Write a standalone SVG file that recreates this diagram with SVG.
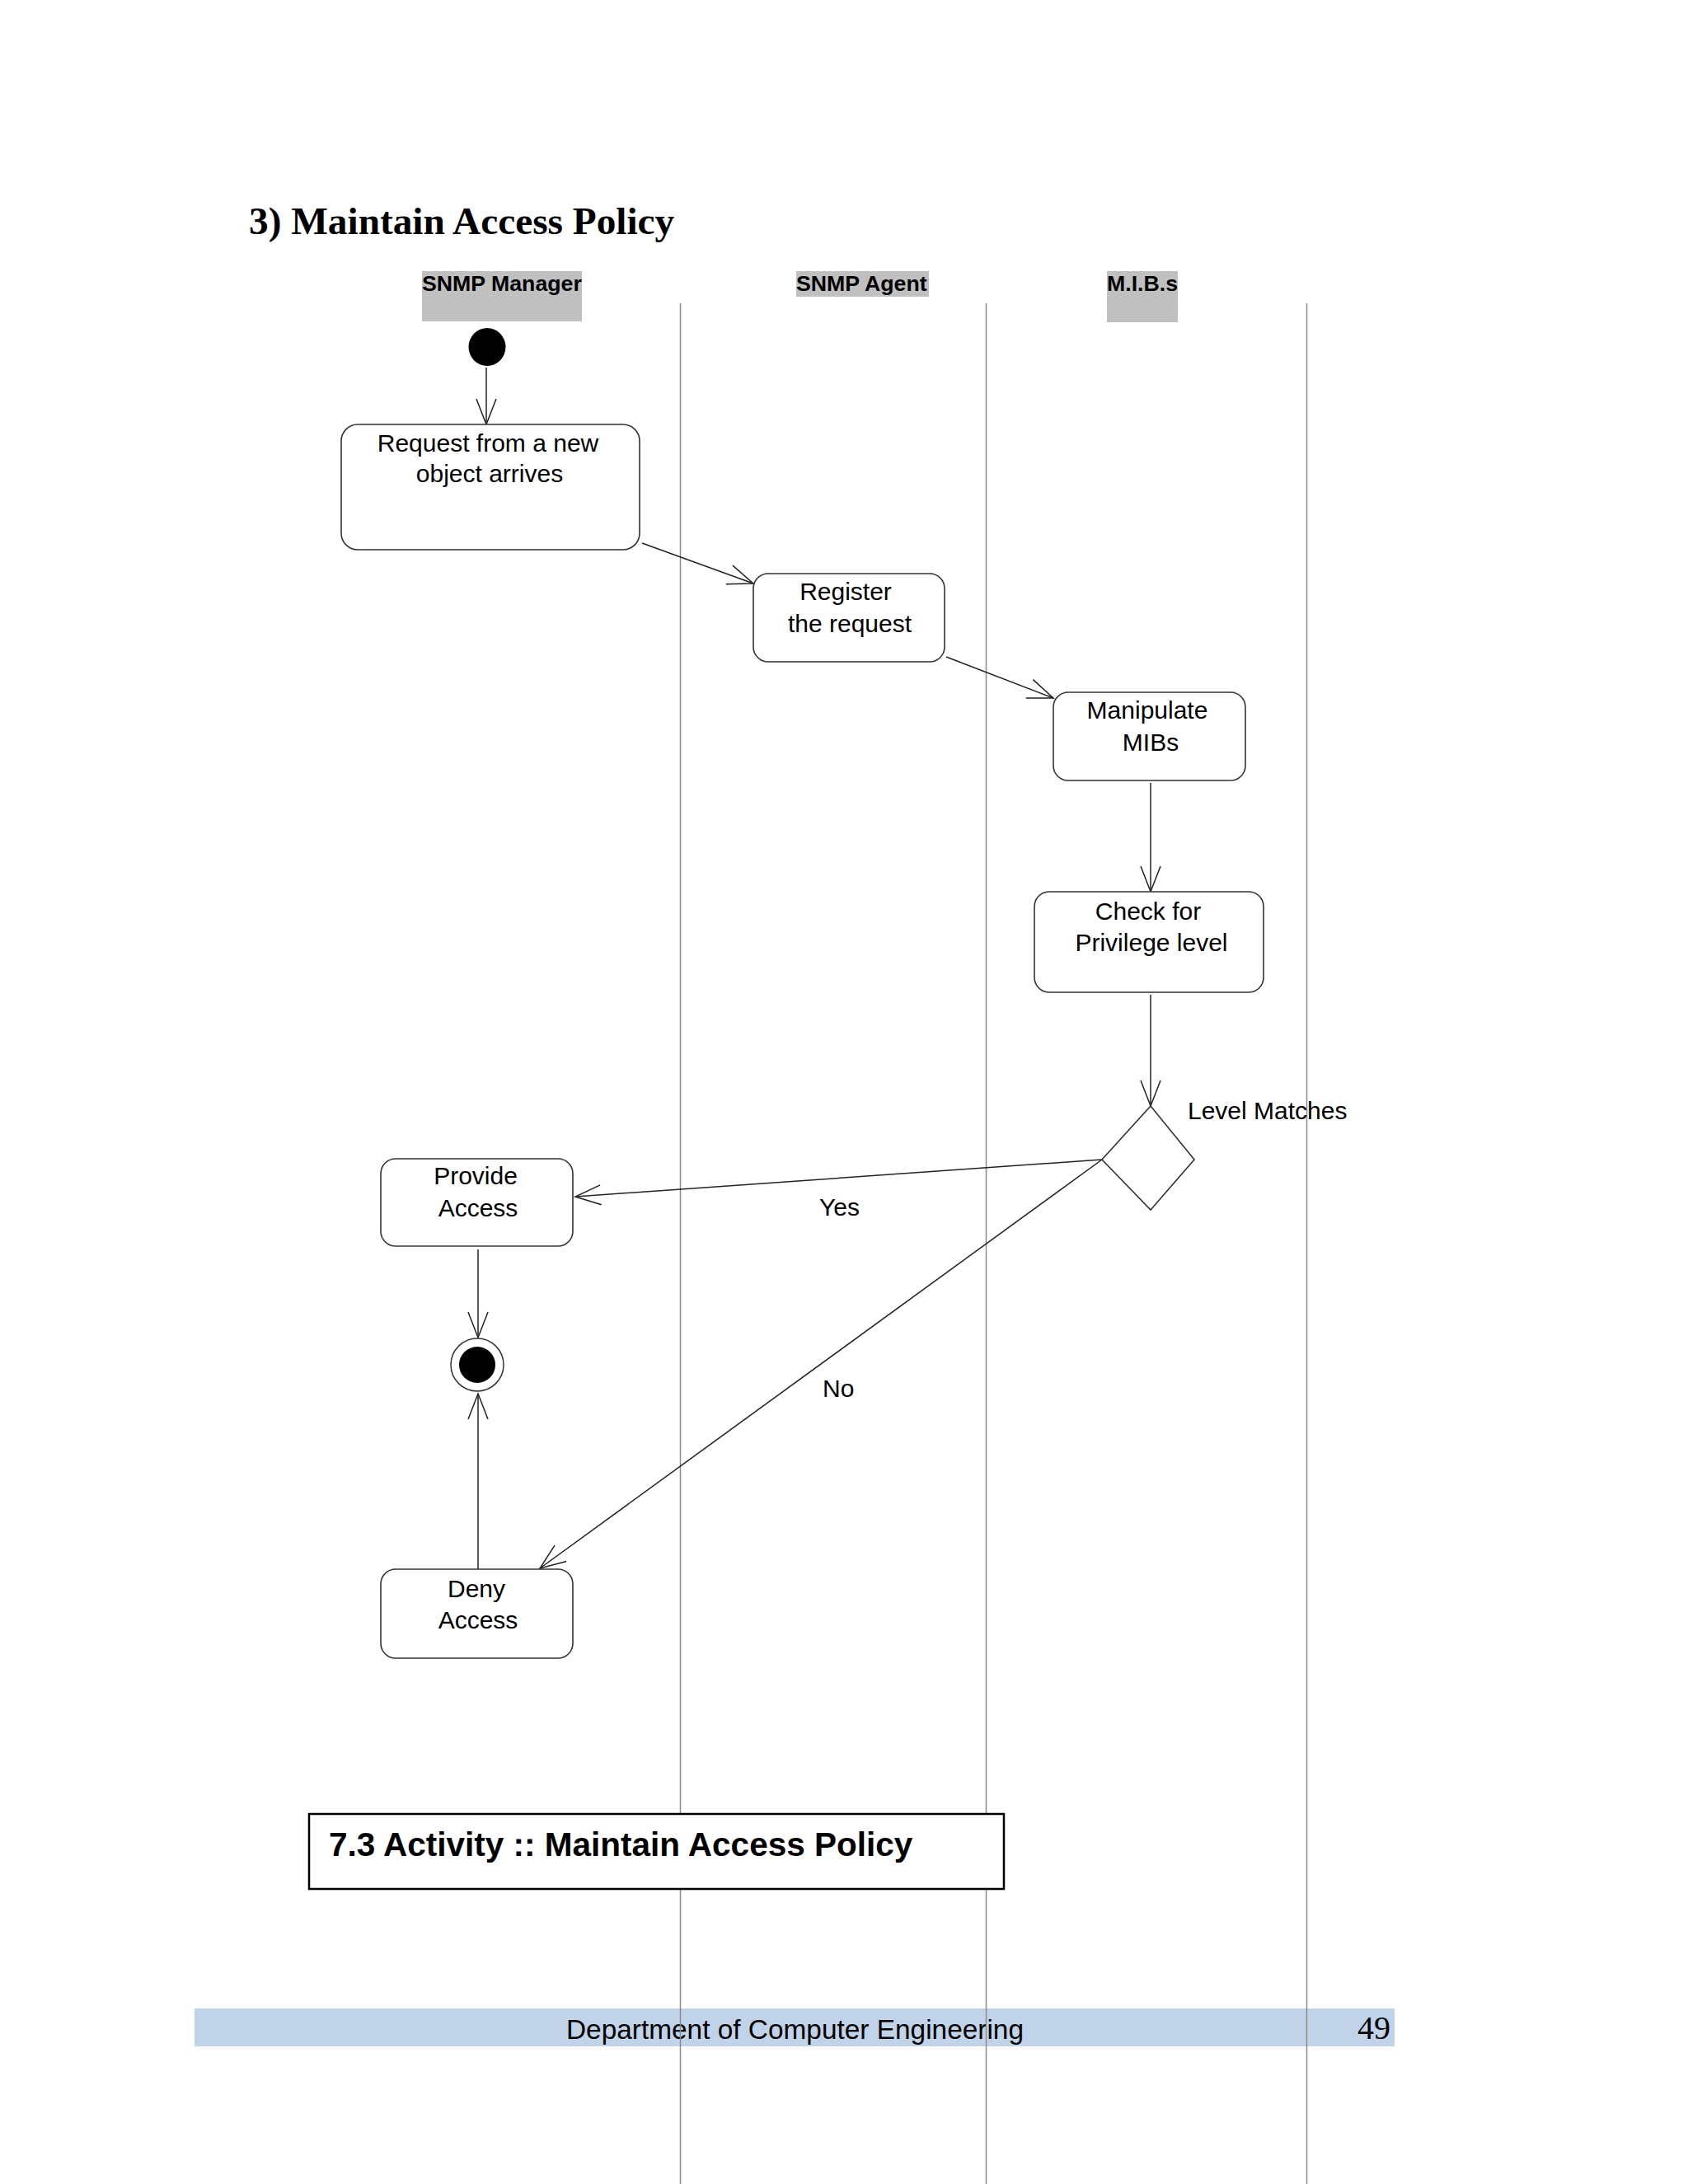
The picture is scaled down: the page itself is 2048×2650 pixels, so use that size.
<svg xmlns="http://www.w3.org/2000/svg" width="2048" height="2650" viewBox="0 0 2048 2650">
<style>
.lane{stroke:#8c8c8c;stroke-width:1.5;fill:none}
.hdrbg{fill:#c0c0c0}
.hdr{font-family:"Liberation Sans",Arial,sans-serif;font-weight:bold;font-size:26.7px;fill:#000}
.box{fill:#fff;stroke:#333;stroke-width:1.6}
.lbl{font-family:"Liberation Sans",Arial,sans-serif;font-size:30px;fill:#000;text-anchor:middle}
.glbl{font-family:"Liberation Sans",Arial,sans-serif;font-size:30px;fill:#000}
.edge{stroke:#222;stroke-width:1.5;fill:none}
</style>
<defs>
<marker id="open" markerUnits="userSpaceOnUse" markerWidth="40" markerHeight="30" refX="0" refY="0" viewBox="-34 -15 36 30" orient="auto" overflow="visible">
<path d="M -31,-12 L 0,0 L -31,12" fill="none" stroke="#222" stroke-width="1.5"/>
</marker>
</defs>
<rect x="0" y="0" width="2048" height="2650" fill="#fff"/>
<text x="302" y="284" font-family="'Liberation Serif','Times New Roman',serif" font-weight="bold" font-size="47.3">3) Maintain Access Policy</text>
<g id="footer">
<rect x="236" y="2437" width="1456" height="46" fill="#c0d3e8"/>
<text x="687" y="2474" font-family="'Liberation Sans',Arial,sans-serif" font-size="33.4">Department of Computer Engineering</text>
<text x="1647" y="2474" font-family="'Liberation Serif','Times New Roman',serif" font-size="40">49</text>
</g>
<g id="lanes">
<line class="lane" x1="825.5" y1="368" x2="825.5" y2="2650"/>
<line class="lane" x1="1196.5" y1="368" x2="1196.5" y2="2650"/>
<line class="lane" x1="1585.5" y1="368" x2="1585.5" y2="2650"/>
</g>
<g id="headers">
<rect class="hdrbg" x="512" y="329" width="194" height="61"/>
<text class="hdr" x="512" y="353">SNMP Manager</text>
<rect class="hdrbg" x="966" y="329" width="161" height="31"/>
<text class="hdr" x="966" y="353">SNMP Agent</text>
<rect class="hdrbg" x="1343" y="329" width="86" height="62"/>
<text class="hdr" x="1343" y="353">M.I.B.s</text>
</g>
<g id="connectors">
<line class="edge" x1="590" y1="446" x2="590" y2="515" marker-end="url(#open)"/>
<line class="edge" x1="779" y1="659" x2="914" y2="708" marker-end="url(#open)"/>
<line class="edge" x1="1148" y1="797" x2="1278" y2="847" marker-end="url(#open)"/>
<line class="edge" x1="1396" y1="950" x2="1396" y2="1082" marker-end="url(#open)"/>
<line class="edge" x1="1396" y1="1207" x2="1396" y2="1342" marker-end="url(#open)"/>
<line class="edge" x1="1337" y1="1407" x2="698" y2="1452" marker-end="url(#open)"/>
<line class="edge" x1="1337" y1="1407" x2="655" y2="1903" marker-end="url(#open)"/>
<line class="edge" x1="580" y1="1516" x2="580" y2="1623" marker-end="url(#open)"/>
<line class="edge" x1="580" y1="1904" x2="580" y2="1691" marker-end="url(#open)"/>
<text class="glbl" x="994" y="1475">Yes</text>
<text class="glbl" x="998" y="1695">No</text>
</g>
<g id="start">
<ellipse cx="591" cy="421" rx="22.5" ry="23" fill="#000"/>
</g>
<g id="request">
<rect class="box" x="414" y="515" width="362" height="152" rx="20"/>
<text class="lbl" x="592" y="548">Request from a new</text>
<text class="lbl" x="594" y="585">object arrives</text>
</g>
<g id="register">
<rect class="box" x="914" y="696" width="232" height="107" rx="18"/>
<text class="lbl" x="1026" y="728">Register</text>
<text class="lbl" x="1031" y="767">the request</text>
</g>
<g id="manipulate">
<rect class="box" x="1278" y="840" width="233" height="107" rx="18"/>
<text class="lbl" x="1392" y="872">Manipulate</text>
<text class="lbl" x="1396" y="911">MIBs</text>
</g>
<g id="check">
<rect class="box" x="1255" y="1082" width="278" height="122" rx="18"/>
<text class="lbl" x="1393" y="1116">Check for</text>
<text class="lbl" x="1397" y="1154">Privilege level</text>
</g>
<g id="decision">
<polygon class="box" points="1396,1342 1449,1407 1396,1468 1337,1407"/>
<text class="glbl" x="1441" y="1358">Level Matches</text>
</g>
<g id="provide">
<rect class="box" x="462" y="1406" width="233" height="106" rx="18"/>
<text class="lbl" x="577" y="1437">Provide</text>
<text class="lbl" x="580" y="1476">Access</text>
</g>
<g id="final">
<circle cx="579" cy="1656" r="32" fill="#fff" stroke="#333" stroke-width="1.5"/>
<circle cx="579" cy="1656" r="22" fill="#000"/>
</g>
<g id="deny">
<rect class="box" x="462" y="1904" width="233" height="108" rx="18"/>
<text class="lbl" x="578" y="1938">Deny</text>
<text class="lbl" x="580" y="1976">Access</text>
</g>
<g id="caption">
<rect x="375" y="2201" width="843" height="91" fill="#fff" stroke="#000" stroke-width="2.5"/>
<text x="399" y="2252" font-family="'Liberation Sans',Arial,sans-serif" font-weight="bold" font-size="40.5">7.3 Activity :: Maintain Access Policy</text>
</g>
</svg>
